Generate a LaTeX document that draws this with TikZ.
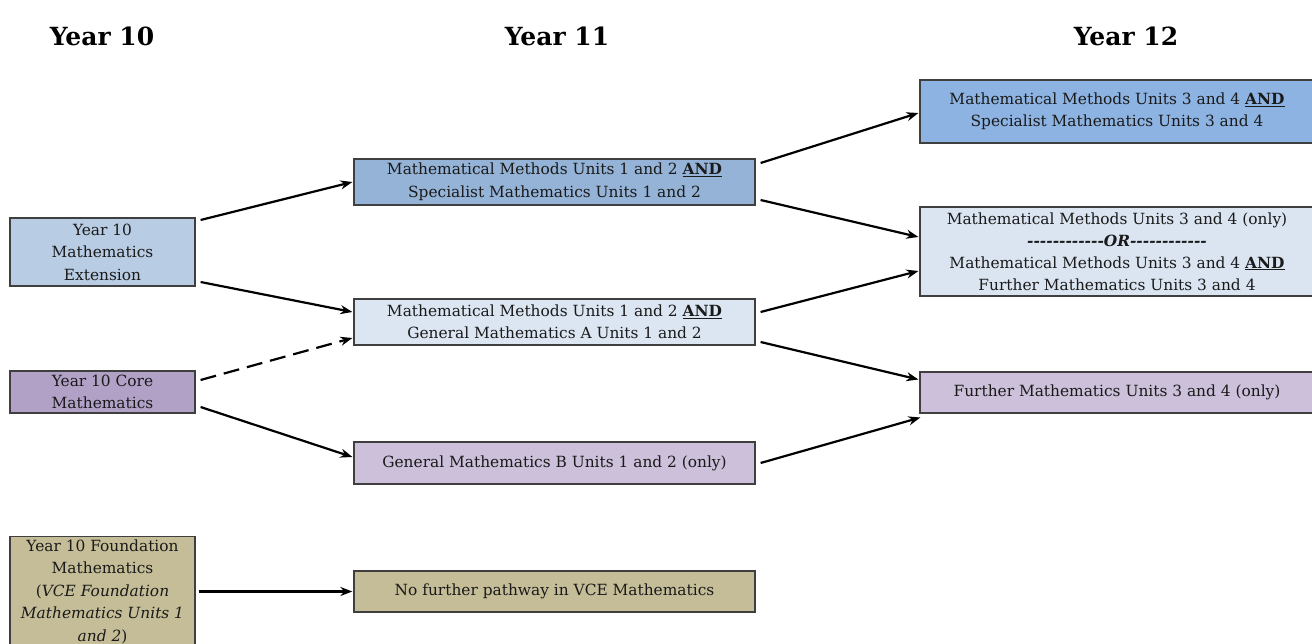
\documentclass[tikz,border=0pt]{standalone}
\usepackage{fontspec}
\setmainfont{DejaVu Serif}
\usetikzlibrary{arrows.meta}
\definecolor{cext}{HTML}{B8CCE4}
\definecolor{ccore}{HTML}{B2A1C7}
\definecolor{cfound}{HTML}{C4BD97}
\definecolor{cmmsm}{HTML}{95B3D7}
\definecolor{cmmgma}{HTML}{DCE6F2}
\definecolor{cgmb}{HTML}{CCC0DA}
\definecolor{cytwa}{HTML}{8DB3E2}
\definecolor{cytwb}{HTML}{DBE5F1}
\definecolor{cborder}{HTML}{3F3F3F}
\definecolor{ctext}{HTML}{1A1A1A}
\newcommand{\hyrun}{-{}-{}-{}-{}-{}-{}-{}-{}-{}-{}-{}-{}}
\tikzset{
  box/.style={draw=cborder, line width=1.2pt, inner sep=0pt, align=center,
    text=ctext, font=\fontsize{15.4}{22.5}\selectfont},
  hdr/.style={font=\fontsize{25}{30}\selectfont\bfseries, inner sep=0pt},
  arr/.style={line width=2.2pt, -{Stealth[length=12pt,width=9pt]}},
}
\begin{document}
\begin{tikzpicture}[x=1pt,y=-1pt]
\useasboundingbox (0,0) rectangle (1312,644);
% headers
\node[hdr] (h10) at (102,36) {Year 10};
\node[hdr] (h11) at (557,36) {Year 11};
\node[hdr] (h12) at (1126,36) {Year 12};
% year 10
\node[box, fill=cext, minimum width=185pt, minimum height=68pt] (ext) at (102.5,252) {Year 10\\Mathematics\\Extension};
\node[box, fill=ccore, minimum width=185pt, minimum height=42pt] (core) at (102.5,392) {Year 10 Core\\Mathematics};
\node[box, fill=cfound, minimum width=185pt, minimum height=112pt, anchor=north] (found) at (102.5,536) {};
\node[box, draw=none, anchor=north] (foundtxt) at (102.5,539) {Year 10 Foundation\\Mathematics\\(\textit{VCE Foundation}\\\textit{Mathematics Units 1}\\\textit{and 2})};
% year 11
\node[box, fill=cmmsm, minimum width=401pt, minimum height=46pt] (mmsm) at (554.5,182) {Mathematical Methods Units 1 and 2 \underline{\textbf{AND}}\\Specialist Mathematics Units 1 and 2};
\node[box, fill=cmmgma, minimum width=401pt, minimum height=46pt] (mmgma) at (554.5,322) {Mathematical Methods Units 1 and 2 \underline{\textbf{AND}}\\General Mathematics A Units 1 and 2};
\node[box, fill=cgmb, minimum width=401pt, minimum height=42pt] (gmb) at (554.5,463) {General Mathematics B Units 1 and 2 (only)};
\node[box, fill=cfound, minimum width=401pt, minimum height=41pt] (nf) at (554.5,591.5) {No further pathway in VCE Mathematics};
% year 12
\node[box, fill=cytwa, minimum width=394pt, minimum height=63pt] (ya) at (1117,111.5) {Mathematical Methods Units 3 and 4 \underline{\textbf{AND}}\\Specialist Mathematics Units 3 and 4};
\node[box, fill=cytwb, minimum width=394pt, minimum height=89pt, font=\fontsize{15.4}{22}\selectfont] (yb) at (1117,251.5) {Mathematical Methods Units 3 and 4 (only)\\\textbf{\textit{\hyrun OR\hyrun}}\\Mathematical Methods Units 3 and 4 \underline{\textbf{AND}}\\Further Mathematics Units 3 and 4};
\node[box, fill=cgmb, minimum width=394pt, minimum height=41pt] (yc) at (1117,392.5) {Further Mathematics Units 3 and 4 (only)};
% arrows
\draw[arr] ([xshift=5pt,yshift=32pt]ext.east) -- ([xshift=-1pt]mmsm.west);
\draw[arr] ([xshift=5pt,yshift=-30pt]ext.east) -- ([xshift=-1pt,yshift=10pt]mmgma.west);
\draw[arr, dash pattern=on 16pt off 8pt] ([xshift=5pt,yshift=12pt]core.east) -- ([xshift=-1pt,yshift=-16pt]mmgma.west);
\draw[arr] ([xshift=5pt,yshift=-15pt]core.east) -- ([xshift=-1pt,yshift=6pt]gmb.west);
\draw[arr] ([xshift=3pt]found.east |- nf.west) -- ([xshift=-1pt]nf.west);
\draw[arr] ([xshift=5pt,yshift=19pt]mmsm.east) -- ([xshift=-1pt,yshift=-1.5pt]ya.west);
\draw[arr] ([xshift=5pt,yshift=-18pt]mmsm.east) -- ([xshift=-1pt,yshift=14.5pt]yb.west);
\draw[arr] ([xshift=5pt,yshift=10pt]mmgma.east) -- ([xshift=-1pt,yshift=-19.5pt]yb.west);
\draw[arr] ([xshift=5pt,yshift=-20pt]mmgma.east) -- ([xshift=-1pt,yshift=13pt]yc.west);
\draw[arr] ([xshift=5pt,yshift=0pt]gmb.east) -- ([xshift=1pt,yshift=-25pt]yc.west);
\end{tikzpicture}
\end{document}
